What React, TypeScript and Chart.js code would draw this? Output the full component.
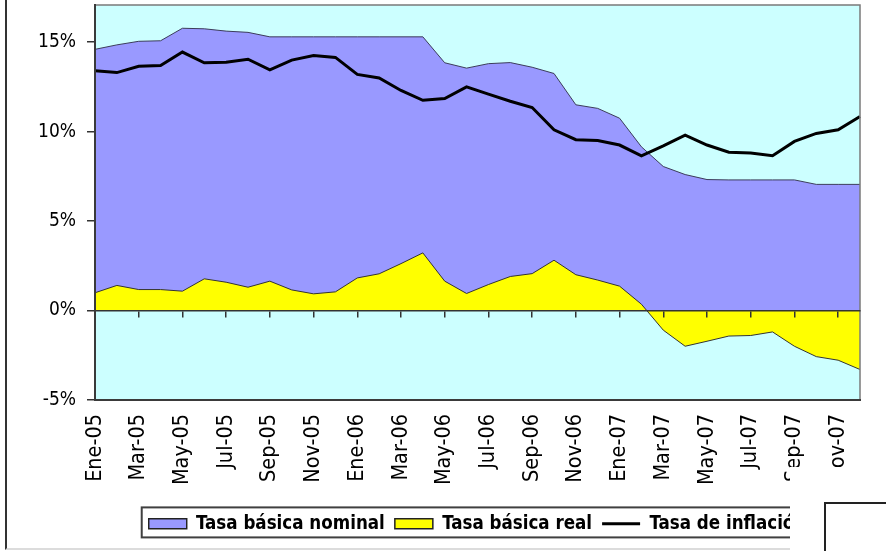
import React, { useEffect, useRef } from "react";
import { Chart, registerables } from "chart.js";

Chart.register(...registerables);

const months = [
  "Ene-05", "Feb-05", "Mar-05", "Abr-05", "May-05", "Jun-05", "Jul-05", "Ago-05", "Sep-05", "Oct-05", "Nov-05", "Dic-05",
  "Ene-06", "Feb-06", "Mar-06", "Abr-06", "May-06", "Jun-06", "Jul-06", "Ago-06", "Sep-06", "Oct-06", "Nov-06", "Dic-06",
  "Ene-07", "Feb-07", "Mar-07", "Abr-07", "May-07", "Jun-07", "Jul-07", "Ago-07", "Sep-07", "Oct-07", "Nov-07", "Dic-07",
];

const nominal = [
  14.6, 14.85, 15.05, 15.08, 15.78, 15.75, 15.62, 15.55, 15.3, 15.3, 15.3, 15.3,
  15.3, 15.3, 15.3, 15.3, 13.85, 13.55, 13.8, 13.86, 13.6, 13.25, 11.5, 11.3,
  10.75, 9.15, 8.05, 7.6, 7.32, 7.3, 7.3, 7.3, 7.3, 7.05, 7.05, 7.05,
];

const real = [
  0.99, 1.4, 1.17, 1.17, 1.08, 1.77, 1.58, 1.3, 1.64, 1.15, 0.93, 1.04,
  1.82, 2.05, 2.62, 3.22, 1.64, 0.95, 1.45, 1.9, 2.06, 2.81, 2.0, 1.7,
  1.36, 0.35, -1.1, -2.0, -1.72, -1.43, -1.4, -1.2, -2.0, -2.58, -2.78, -3.3,
];

const inflation = [
  13.4, 13.3, 13.65, 13.7, 14.45, 13.85, 13.88, 14.05, 13.45, 14.0, 14.25, 14.15,
  13.2, 13.0, 12.3, 11.75, 11.85, 12.5, 12.1, 11.7, 11.35, 10.1, 9.55, 9.5,
  9.25, 8.65, 9.2, 9.8, 9.25, 8.85, 8.8, 8.65, 9.45, 9.9, 10.1, 10.85,
];

const seriesNames = ["Tasa básica nominal", "Tasa básica real", "Tasa de inflación"];
const yTicks = [-5, 0, 5, 10, 15];
const yMin = -5;
const yMax = 17.08;

const FONT = "'DejaVu Sans Condensed', 'DejaVu Sans', sans-serif";

const plotDecor = {
  id: "plotDecor",
  beforeDraw(chart: any) {
    const { ctx, chartArea: a } = chart;
    ctx.save();
    ctx.fillStyle = "#CCFFFF";
    ctx.fillRect(a.left, a.top, a.right - a.left, a.bottom - a.top);
    ctx.restore();
  },
  afterDatasetsDraw(chart: any) {
    const { ctx, chartArea: a } = chart;
    ctx.save();
    ctx.strokeStyle = "#7a7a7a";
    ctx.lineWidth = 1.5;
    ctx.strokeRect(a.left, a.top, a.right - a.left, a.bottom - a.top);
    ctx.restore();
  },
  afterDraw(chart: any) {
    const lg = chart.legend;
    if (!lg || !lg.legendHitBoxes || !lg.legendHitBoxes.length) return;
    const hb = lg.legendHitBoxes;
    const left = Math.min(...hb.map((h: any) => h.left)) - 7;
    const right = Math.max(...hb.map((h: any) => h.left + h.width)) + 7;
    const ctx = chart.ctx;
    ctx.save();
    ctx.strokeStyle = "#404040";
    ctx.lineWidth = 2;
    ctx.strokeRect(left, lg.top + 3, right - left, 30);
    ctx.restore();
  },
};

const noPad = (s: any) => {
  s.paddingLeft = 0;
  s.paddingRight = 0;
  s.paddingTop = 0;
  s.paddingBottom = 0;
};

export default function App() {
  const ref = useRef<HTMLCanvasElement | null>(null);

  useEffect(() => {
    if (!ref.current) return;
    const chart = new Chart(ref.current, {
      type: "line",
      data: {
        labels: months,
        datasets: [
          {
            label: seriesNames[0],
            data: nominal,
            backgroundColor: "#9999FF",
            borderColor: "#3c3c5a",
            borderWidth: 1,
            fill: "origin",
            pointRadius: 0,
            pointStyle: "rect",
            tension: 0,
            order: 3,
          },
          {
            label: seriesNames[1],
            data: real,
            backgroundColor: "#FFFF00",
            borderColor: "#333333",
            borderWidth: 1,
            fill: "origin",
            pointRadius: 0,
            pointStyle: "rect",
            tension: 0,
            order: 2,
          },
          {
            label: seriesNames[2],
            data: inflation,
            backgroundColor: "#000000",
            borderColor: "#000000",
            borderWidth: 3,
            fill: false,
            pointRadius: 0,
            pointStyle: "line",
            tension: 0,
            order: 1,
          },
        ],
      },
      options: {
        animation: false,
        responsive: false,
        events: [],
        layout: { padding: { top: 5, right: 26, bottom: 8, left: 0 } },
        scales: {
          x: {
            type: "category",
            position: "bottom",
            offset: false,
            grid: { display: false, drawTicks: false },
            border: { display: true, color: "#3a3a3a", width: 2, z: 1 },
            ticks: {
              autoSkip: false,
              minRotation: 90,
              maxRotation: 90,
              padding: 14,
              color: "#000",
              font: { family: FONT, size: 21.5 },
              callback: (_v: any, i: number) => (i % 2 === 0 ? months[i] : ""),
            },
            afterFit: (s: any) => {
              s.height = 104.5;
              noPad(s);
            },
          },
          x0: {
            type: "category",
            axis: "x",
            position: { y: 0 },
            offset: false,
            grid: {
              display: true,
              drawOnChartArea: false,
              drawTicks: true,
              tickLength: 6,
              lineWidth: 1.5,
              z: 1,
              color: (c: any) => (c.index > 0 && c.index % 2 === 0 ? "#333333" : "rgba(0,0,0,0)"),
            },
            border: { display: true, color: "#333333", width: 1.5, z: 1 },
            ticks: { display: false, autoSkip: false },
            afterFit: (s: any) => noPad(s),
          },
          y: {
            type: "linear",
            position: "left",
            min: yMin,
            max: yMax,
            afterBuildTicks: (s: any) => {
              s.ticks = yTicks.map((v) => ({ value: v }));
            },
            grid: {
              display: true,
              drawOnChartArea: false,
              drawTicks: true,
              tickLength: 8,
              lineWidth: 1.5,
              color: "#333333",
              z: 1,
            },
            border: { display: true, color: "#3a3a3a", width: 2, z: 1 },
            ticks: {
              padding: 11,
              color: "#000",
              font: { family: FONT, size: 19 },
              callback: (v: any) => `${v}%`,
            },
            afterFit: (s: any) => {
              s.width = 95;
              noPad(s);
            },
          },
        },
        plugins: {
          tooltip: { enabled: false },
          title: { display: false },
          legend: {
            display: true,
            position: "bottom",
            fullSize: false,
            labels: {
              usePointStyle: true,
              pointStyleWidth: 38,
              boxHeight: 10,
              padding: 10,
              color: "#000",
              font: { family: FONT, size: 18.6, weight: "bold" },
              sort: (a: any, b: any) => a.datasetIndex - b.datasetIndex,
              generateLabels: (chart: any) =>
                Chart.defaults.plugins.legend.labels.generateLabels(chart).map((it: any) => ({
                  ...it,
                  lineWidth: it.datasetIndex === 2 ? 3 : 1.5,
                  strokeStyle: it.datasetIndex === 2 ? "#000" : "#222",
                })),
            },
          },
        },
      } as any,
      plugins: [plotDecor],
    });
    return () => chart.destroy();
  }, []);

  return (
    <div
      style={{
        position: "fixed",
        left: 0,
        top: 0,
        width: 886,
        height: 551,
        overflow: "hidden",
        background: "#fff",
      }}
    >
      <canvas ref={ref} width={886} height={551} style={{ position: "absolute", left: 0, top: 0 }} />
      <div
        style={{
          position: "absolute",
          left: 5,
          top: 0,
          width: 785,
          height: 548,
          borderLeft: "2px solid #333",
          borderBottom: "2px solid #dcdcdc",
          pointerEvents: "none",
        }}
      />
      <div
        style={{
          position: "absolute",
          left: 790,
          top: 467,
          width: 96,
          height: 84,
          background: "#fff",
        }}
      />
      <div
        style={{
          position: "absolute",
          left: 824,
          top: 502,
          width: 100,
          height: 100,
          borderLeft: "2px solid #222",
          borderTop: "2px solid #222",
          background: "#fff",
        }}
      />
    </div>
  );
}
